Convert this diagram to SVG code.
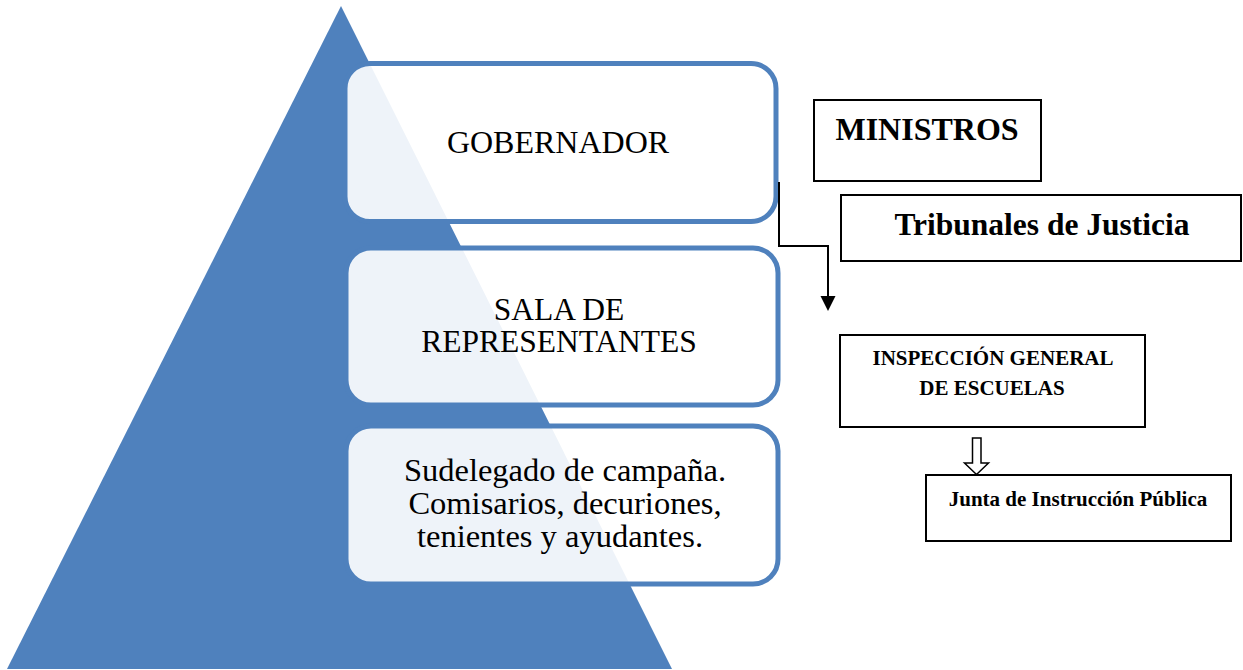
<svg xmlns="http://www.w3.org/2000/svg" width="1243" height="670" viewBox="0 0 1243 670">
<style>
.tier{fill:#ffffff;fill-opacity:0.9;stroke:#4F81BD;stroke-width:5}
.box{fill:#ffffff;stroke:#000000;stroke-width:2}
.tt{font-family:"Liberation Serif","Times New Roman",serif;font-size:32px;fill:#000;text-anchor:middle}
.bt{font-family:"Liberation Serif","Times New Roman",serif;font-weight:bold;fill:#000;text-anchor:middle}
.conn{fill:none;stroke:#000;stroke-width:2}
</style>
<rect width="1243" height="670" fill="#ffffff"/>
<g id="pyramid">
<polygon points="341,6 7,669 672,669" fill="#4F81BD"/>
</g>
<g id="gobernador">
<rect class="tier" x="345" y="63.5" width="431" height="158" rx="25"/>
<text class="tt" x="558" y="153">GOBERNADOR</text>
</g>
<g id="sala">
<rect class="tier" x="346" y="248" width="432" height="157" rx="25"/>
<text class="tt" x="559" y="320" style="font-size:31.5px">SALA DE</text>
<text class="tt" x="559" y="352" style="font-size:31.5px">REPRESENTANTES</text>
</g>
<g id="sudelegado">
<rect class="tier" x="346" y="426" width="432" height="158" rx="25"/>
<text class="tt" x="565" y="481" style="font-size:32.5px">Sudelegado de campaña.</text>
<text class="tt" x="565" y="514" style="font-size:32.5px">Comisarios, decuriones,</text>
<text class="tt" x="560" y="547" style="font-size:32.5px">tenientes y ayudantes.</text>
</g>
<g id="ministros">
<rect class="box" x="814" y="100" width="227" height="81"/>
<text class="bt" x="927" y="140" style="font-size:32px">MINISTROS</text>
</g>
<g id="tribunales">
<rect class="box" x="841" y="195" width="400" height="66"/>
<text class="bt" x="1042" y="235" style="font-size:31.5px">Tribunales de Justicia</text>
</g>
<g id="inspeccion">
<rect class="box" x="840" y="335" width="305" height="92"/>
<text class="bt" x="993" y="365" style="font-size:21px">INSPECCIÓN GENERAL</text>
<text class="bt" x="992" y="395" style="font-size:21px">DE ESCUELAS</text>
</g>
<g id="junta">
<rect class="box" x="926" y="475" width="305" height="66"/>
<text class="bt" x="1078" y="506" style="font-size:21px">Junta de Instrucción Pública</text>
</g>
<g id="connectors">
<polyline class="conn" points="779,182 779,246 828,246 828,297"/>
<polygon points="820.5,296 835.5,296 828,311" fill="#000"/>
<polygon points="972.5,438 981,438 981,463 988.5,463 976.5,474.5 964.5,463 972.5,463" fill="#fff" stroke="#000" stroke-width="1.5"/>
</g>
</svg>
